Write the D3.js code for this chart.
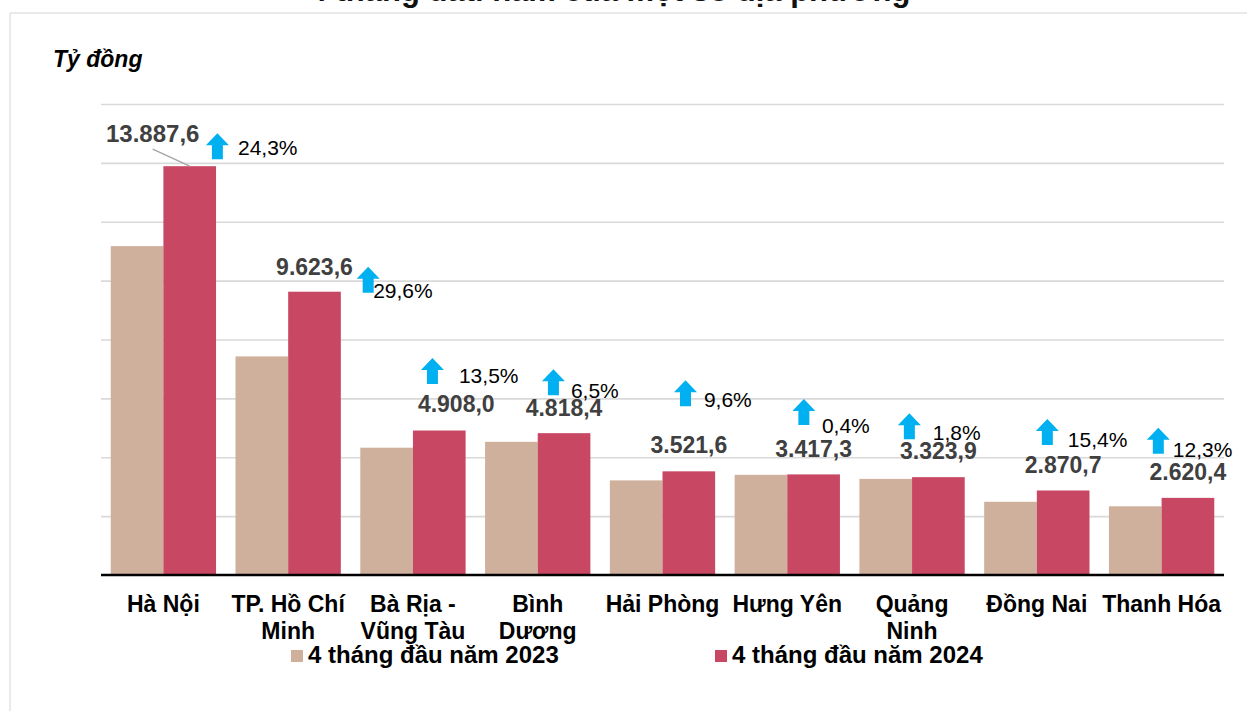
<!DOCTYPE html>
<html><head><meta charset="utf-8">
<script src="https://cdn.jsdelivr.net/npm/d3@7"></script>
<style>
html,body{margin:0;padding:0;background:#fff;overflow:hidden}
text{font-family:"Liberation Sans",Arial,sans-serif}
</style></head>
<body><svg id="c" width="1247" height="711"></svg>
<script>
// ---- data ----
const categories = ["Hà Nội","TP. Hồ Chí Minh","Bà Rịa - Vũng Tàu","Bình Dương","Hải Phòng","Hưng Yên","Quảng Ninh","Đồng Nai","Thanh Hóa"];
const categoryLines = [["Hà Nội"],["TP. Hồ Chí","Minh"],["Bà Rịa -","Vũng Tàu"],["Bình","Dương"],["Hải Phòng"],["Hưng Yên"],["Quảng","Ninh"],["Đồng Nai"],["Thanh Hóa"]];
const series = ["4 tháng đầu năm 2023","4 tháng đầu năm 2024"];
const values2023 = [11172.7, 7425.6, 4324.2, 4524.3, 3213.1, 3403.7, 3265.1, 2487.6, 2333.4];
const values2024 = [13887.6, 9623.6, 4908.0, 4818.4, 3521.6, 3417.3, 3323.9, 2870.7, 2620.4];
const growth = ["24,3%","29,6%","13,5%","6,5%","9,6%","0,4%","1,8%","15,4%","12,3%"];
const yTicks = [0,2000,4000,6000,8000,10000,12000,14000,16000];
const title = "4 tháng đầu năm của một số địa phương";
const unitLabel = "Tỷ đồng";

// ---- layout (offsets for annotation placement, relative to scale positions) ----
const valueLabelOffset = [[-37,-24],[0,-17],[17,-18.5],[0,-17],[0,-18],[0,-17],[0,-18],[0,-17.5],[0,-18]];
const pctOffset = [ // arrow center dx, arrow top dy, text dx, text dy  (relative to band center / 2024 bar top)
 [54,-33,74.6,-11],[80,-25,85,6.3],[19.5,-72.5,46,-47.5],[15.7,-64,33.2,-35],
 [23,-91,41.4,-64],[16.6,-75.5,34.6,-41.5],[-2.7,-64,20.8,-37],[10.5,-71.5,31,-43.5],[-3.3,-70,11.2,-41]];
const colors = ["#cfb09c","#c84864"];

const svg = d3.select("#c");
const W = 1247, H = 711;
const plot = {left:101, right:1224, top:104, bottom:575};

// frame
svg.append("line").attr("x1",10).attr("x2",W).attr("y1",13).attr("y2",13).attr("stroke","#e3e3e3").attr("stroke-width",1.5);
svg.append("line").attr("x1",10).attr("x2",10).attr("y1",13).attr("y2",H).attr("stroke","#e3e3e3").attr("stroke-width",1.5);

// title (clipped at top as in source)
svg.append("text").attr("x",610).attr("y",1).attr("text-anchor","middle")
  .attr("font-size",31).attr("font-weight","bold").attr("fill","#111").text(title);

const x0 = d3.scaleBand().domain(categories).range([plot.left, plot.right]).paddingInner(0.156).paddingOuter(0.078);
const x1 = d3.scaleBand().domain(series).range([0, x0.bandwidth()]);
const y = d3.scaleLinear().domain([0,16000]).range([plot.bottom, plot.top]);

// gridlines
const yAxis = d3.axisLeft(y).tickValues(yTicks).tickSize(-(plot.right-plot.left)).tickFormat("");
const ga = svg.append("g").attr("transform",`translate(${plot.left},0)`).call(yAxis);
ga.select(".domain").remove();
ga.selectAll(".tick line").attr("stroke","#d9d9d9").attr("stroke-width",1.6);
ga.selectAll(".tick").filter(d=>d===0).remove();

// bars
const rows = categories.map((c,i)=>({c, i, v:[values2023[i], values2024[i]]}));
const g = svg.append("g");
rows.forEach(r=>{
  series.forEach((s,k)=>{
    g.append("rect").attr("x", x0(r.c)+x1(s)).attr("width", x1.bandwidth())
     .attr("y", y(r.v[k])).attr("height", y(0)-y(r.v[k])).attr("fill", colors[k]);
  });
});

// x axis line
const xAxis = d3.axisBottom(x0).tickSize(0).tickFormat("");
const gx = svg.append("g").attr("transform",`translate(0,${plot.bottom})`).call(xAxis);
gx.select(".domain").attr("stroke","#000").attr("stroke-width",2.5).attr("d",`M${plot.left},0H${plot.right}`);

// category labels
rows.forEach(r=>{
  const cx = x0(r.c)+x0.bandwidth()/2;
  const t = svg.append("text").attr("text-anchor","middle").attr("font-size",23).attr("font-weight","bold").attr("fill","#000");
  categoryLines[r.i].forEach((ln,j)=>{
    t.append("tspan").attr("x",cx).attr("y",612+j*27).text(ln);
  });
});

// value labels
const fmt = d3.formatLocale({decimal:",", thousands:".", grouping:[3], currency:["",""]}).format(",.1f");
rows.forEach(r=>{
  const bx = x0(r.c)+x1(series[1])+x1.bandwidth()/2;
  const by = y(r.v[1]);
  const [dx,dy] = valueLabelOffset[r.i];
  svg.append("text").attr("x",bx+dx).attr("y",by+dy).attr("text-anchor","middle")
    .attr("font-size", r.i===0?24:23).attr("font-weight","bold").attr("fill","#404040").text(fmt(r.v[1]));
  if (r.i===0){
    svg.append("line").attr("x1",bx+dx).attr("y1",by+dy+7).attr("x2",bx).attr("y2",by)
      .attr("stroke","#a6a6a6").attr("stroke-width",1.5);
  }
});

// growth arrows + percentages
const arrowPath = d3.path();
const aw=23, ah=26, hh=12, sw=11;
arrowPath.moveTo(0,0); arrowPath.lineTo(aw/2,hh); arrowPath.lineTo(sw/2,hh); arrowPath.lineTo(sw/2,ah);
arrowPath.lineTo(-sw/2,ah); arrowPath.lineTo(-sw/2,hh); arrowPath.lineTo(-aw/2,hh); arrowPath.closePath();
rows.forEach(r=>{
  const cx = x0(r.c)+x0.bandwidth()/2;
  const by = y(r.v[1]);
  const [ax,ay,tx,ty] = pctOffset[r.i];
  svg.append("path").attr("d",arrowPath.toString()).attr("fill","#00b0f0")
    .attr("transform",`translate(${cx+ax},${by+ay})`);
  svg.append("text").attr("x",cx+tx).attr("y",by+ty).attr("font-size",21).attr("fill","#000").text(growth[r.i]);
});

// unit label
svg.append("text").attr("x",53).attr("y",67).attr("font-size",23).attr("font-weight","bold")
  .attr("font-style","italic").attr("fill","#000").text(unitLabel);

// legend
const legendX = [291, 715];
series.forEach((s,k)=>{
  svg.append("rect").attr("x",legendX[k]).attr("y",650).attr("width",12).attr("height",12).attr("fill",colors[k]);
  svg.append("text").attr("x",legendX[k]+17).attr("y",663).attr("font-size",24).attr("font-weight","bold").attr("fill","#000").text(s);
});
</script></body></html>
